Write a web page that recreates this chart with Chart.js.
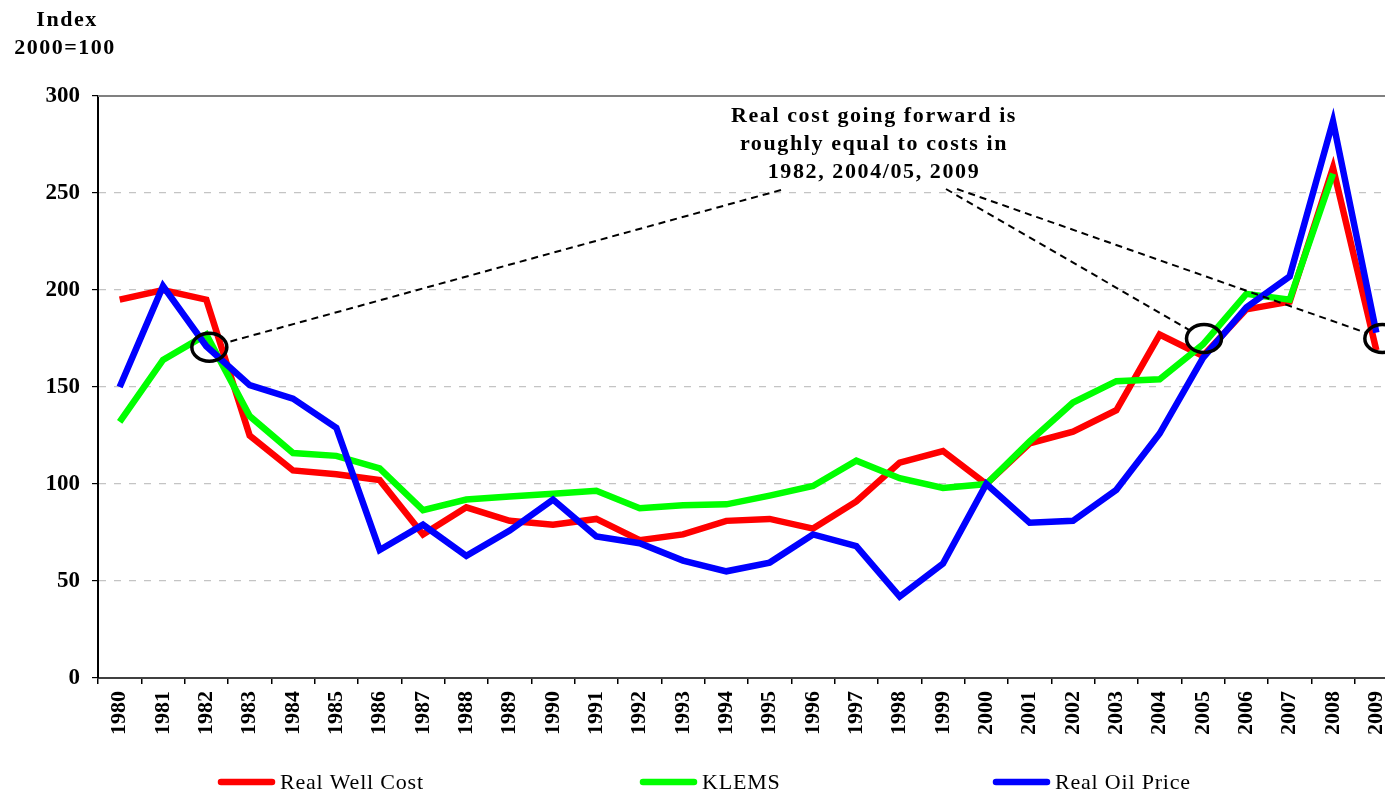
<!DOCTYPE html>
<html>
<head>
<meta charset="utf-8">
<script src="https://cdn.jsdelivr.net/npm/chart.js@4.4.1/dist/chart.umd.min.js"></script>
<style>
  html, body { margin: 0; padding: 0; background: #fff; overflow: hidden; }
  #wrap { position: absolute; left: 0; top: 0; width: 1410px; height: 792px; }
</style>
</head>
<body>
<div id="wrap"><canvas id="chart"></canvas></div>
<script>
// Values (index, 2000 = 100)
const years = ["1980", "1981", "1982", "1983", "1984", "1985", "1986", "1987", "1988", "1989",
  "1990", "1991", "1992", "1993", "1994", "1995", "1996", "1997", "1998", "1999",
  "2000", "2001", "2002", "2003", "2004", "2005", "2006", "2007", "2008", "2009"];
const wellCost = [195, 200, 195, 125, 107, 105, 102, 74, 88, 81,
  79, 82, 71, 74, 81, 82, 77, 91, 111, 117,
  100, 121, 127, 138, 177, 166, 190, 194, 263, 169];
const klems = [132, 164, 177, 135, 116, 114.5, 108, 86.5, 92, 93.5,
  95, 96.5, 87.5, 89, 89.5, 94, 99, 112, 103, 98,
  100, 122, 142, 153, 154, 172, 198, 195, 260, null];
const oilPrice = [150, 202, 171, 151, 144, 129, 66, 79, 63, 76,
  92, 73, 69.5, 60.5, 55, 59.5, 74, 68, 42, 59,
  100, 80, 81, 97, 126, 165, 191, 207, 287, 178];
const yTicks = [0, 50, 100, 150, 200, 250, 300];
const seriesNames = ["Real Well Cost", "KLEMS", "Real Oil Price"];
const seriesColors = ["#ff0000", "#00ff00", "#0000ff"];
const circleYears = ["1982", "2005", "2009"];
const circleValues = [170.5, 175, 175];
const noteLines = ["Real cost going forward is", "roughly equal to costs in", "1982, 2004/05, 2009"];
const axisTitle = ["Index", "2000=100"];

const SERIF = '"Liberation Serif", "Times New Roman", serif';

// annotations, axis title and the Excel-style legend
const decor = {
  id: "decor",
  afterDatasetsDraw(chart) {
    const { ctx, chartArea: a, scales: { x, y } } = chart;
    ctx.save();

    // plot area top border
    ctx.strokeStyle = "#808080";
    ctx.lineWidth = 2;
    ctx.beginPath();
    ctx.moveTo(a.left, a.top);
    ctx.lineTo(a.right, a.top);
    ctx.stroke();

    // circles + dashed pointers
    const nudge = [3, 1, 6];
    const starts = [[781, 190], [946, 189], [957, 189]];
    const rx = 17.5, ry = 14;
    circleYears.forEach((yr, i) => {
      const cx = x.getPixelForValue(years.indexOf(yr)) + nudge[i];
      const cy = y.getPixelForValue(circleValues[i]);
      const [sx, sy] = starts[i];
      let dx = sx - cx, dy = sy - cy;
      const len = Math.hypot(dx, dy);
      dx /= len; dy /= len;
      const s = 1 / Math.sqrt((dx / rx) ** 2 + (dy / ry) ** 2);
      ctx.strokeStyle = "#000";
      ctx.lineWidth = 2;
      ctx.setLineDash([7, 5]);
      ctx.beginPath();
      ctx.moveTo(sx, sy);
      ctx.lineTo(cx + dx * s, cy + dy * s);
      ctx.stroke();
      ctx.setLineDash([]);
      ctx.lineWidth = 3.5;
      ctx.beginPath();
      ctx.ellipse(cx, cy, rx, ry, 0, 0, Math.PI * 2);
      ctx.stroke();
    });

    // note text
    ctx.fillStyle = "#000";
    ctx.font = `bold 22px ${SERIF}`;
    ctx.letterSpacing = "1.6px";
    ctx.textAlign = "center";
    ctx.textBaseline = "alphabetic";
    noteLines.forEach((t, i) => ctx.fillText(t, 874, 122 + i * 28));

    // axis title
    ctx.letterSpacing = "1.5px";
    ctx.fillText(axisTitle[0], 67, 26);
    ctx.fillText(axisTitle[1], 65, 54);

    // legend
    ctx.letterSpacing = "0.8px";
    ctx.font = `22px ${SERIF}`;
    ctx.textAlign = "left";
    ctx.textBaseline = "middle";
    ctx.lineCap = "round";
    const legendX = [218, 640, 993];
    seriesNames.forEach((name, i) => {
      ctx.strokeStyle = seriesColors[i];
      ctx.lineWidth = 6.5;
      ctx.beginPath();
      ctx.moveTo(legendX[i] + 3, 782);
      ctx.lineTo(legendX[i] + 54, 782);
      ctx.stroke();
      ctx.fillText(name, legendX[i] + 62, 783);
    });
    ctx.restore();
  },
};

const seriesData = [wellCost, klems, oilPrice];

new Chart(document.getElementById("chart"), {
  type: "line",
  data: {
    labels: years,
    datasets: seriesNames.map((name, i) => ({
      label: name,
      data: seriesData[i],
      borderColor: seriesColors[i],
      backgroundColor: seriesColors[i],
      borderWidth: 6.5,
      pointRadius: 0,
      tension: 0,
      fill: false,
      order: 3 - i,
    })),
  },
  options: {
    responsive: true,
    maintainAspectRatio: false,
    animation: false,
    layout: { padding: { top: 96, right: 12, left: 0, bottom: 0 } },
    plugins: { legend: { display: false }, tooltip: { enabled: false } },
    scales: {
      x: {
        offset: true,
        grid: { offset: true, drawOnChartArea: false, color: "#000", tickLength: 6, lineWidth: 1.5 },
        border: { color: "#404040", width: 2 },
        ticks: {
          color: "#000",
          minRotation: 90,
          maxRotation: 90,
          autoSkip: false,
          padding: 7,
          font: { family: SERIF, size: 22, weight: "bold" },
        },
        afterFit: (s) => { s.height = 114; },
      },
      y: {
        min: 0,
        max: 300,
        afterBuildTicks: (s) => { s.ticks = yTicks.map((v) => ({ value: v })); },
        grid: {
          color: (c) => (c.tick && (c.tick.value === 0 || c.tick.value === 300) ? "rgba(0,0,0,0)" : "#c4c4c4"),
          lineWidth: 1.2,
          tickColor: "#000",
          tickLength: 6,
        },
        border: { color: "#000", width: 2, dash: [7, 8] },
        ticks: {
          color: "#000",
          padding: 12,
          font: { family: SERIF, size: 23, weight: "bold" },
        },
        afterFit: (s) => { s.width = 98; },
      },
    },
  },
  plugins: [decor],
});
</script>
</body>
</html>
